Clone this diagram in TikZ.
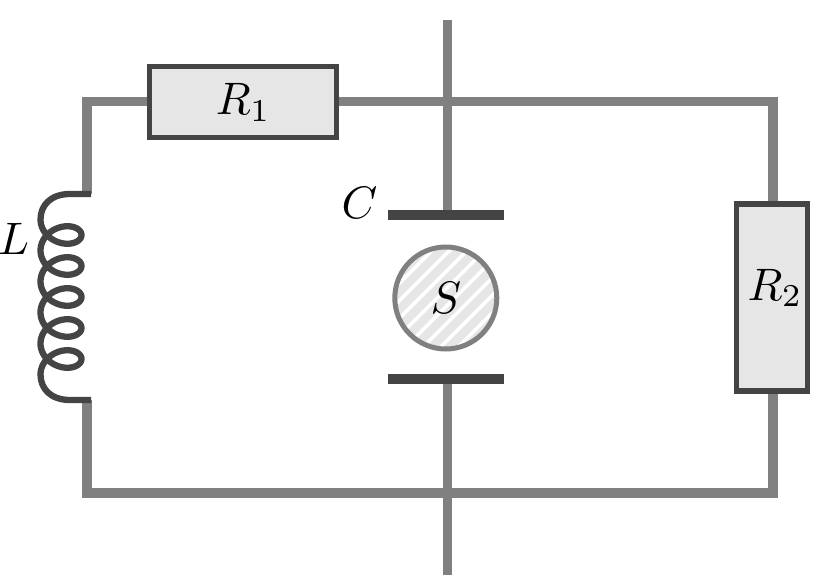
\documentclass[tikz,border=0pt]{standalone}
\usepackage{graphicx}
\definecolor{wire}{HTML}{808080}
\definecolor{dark}{HTML}{444444}
\definecolor{pale}{HTML}{E6E6E6}
\newcommand{\bigmath}[1]{\scalebox{4.55}{$#1$}}
\newcommand{\boxlab}[3]{\raisebox{#2pt}[0pt][0pt]{\makebox[0pt]{\hspace{#1pt}\bigmath{#3}}}}
\pgfdeclarelayer{back}
\pgfsetlayers{back,main}
\tikzset{
  wireline/.style={draw=wire,line width=9.5pt,line cap=butt,line join=miter},
  resbox/.style={draw=dark,fill=pale,line width=5.3pt,inner sep=0pt},
  plate/.style={fill=dark,draw=none,minimum width=116pt,minimum height=10pt,inner sep=0pt},
  lab/.style={inner sep=0pt},
}
\begin{document}
\begin{tikzpicture}[x=1pt,y=-1pt]
\useasboundingbox (0,0) rectangle (831,575);
\coordinate (tl) at (87,101.3);
\coordinate (tr) at (773,101.3);
\coordinate (bl) at (87,493);
\coordinate (br) at (773,493);
\coordinate (top) at (447.3,20);
\coordinate (bot) at (447.3,575);
\coordinate (lt) at (87,194);
\coordinate (lb) at (87,400);
\node[resbox,minimum width=187pt,minimum height=71pt] (R1) at (243.3,102) {\boxlab{0}{-13}{R_1}};
\node[resbox,minimum width=71pt,minimum height=187pt] (R2) at (772,297.5) {\boxlab{6}{-2.5}{R_2}};
\node[plate] (C1) at (446,215) {};
\node[plate] (C2) at (446,379) {};
\begin{pgfonlayer}{back}
\draw[wireline] (lt) -- (tl) -- (tr) -- (br) -- (bl) -- (lb);
\draw[wireline] (top) -- (C1.north -| top);
\draw[wireline] (C2.south -| bot) -- (bot);
\end{pgfonlayer}
% coil
\draw[draw=dark,line width=6.3pt,line join=round]
  (91,194) -- (70,194) .. controls (51,194) and (40.5,205) .. (40.5,219.5)
  -- plot[domain=0:31.416,samples=240,variable=\t] ({61-20.5*cos(\t r)},{219.5+31*\t/6.2832+15.75*sin(\t r)})
  .. controls (40.5,389) and (51,400) .. (70,400) -- (91,400);
% source
\begin{scope}
\clip (445.8,298) circle (51pt);
\fill[white] (445.8,298) circle (51pt);
\foreach \k in {-8,...,8}
  \draw[pale,line width=8.5pt] ({445.8+\k*17.5-70},368) -- ({445.8+\k*17.5+70},228);
\end{scope}
\node[circle,draw=wire,line width=5pt,minimum size=102pt,inner sep=0pt,lab] (S) at (445.8,298) {\bigmath{S}};
\node[lab] (LC) at (359.5,202.5) {\bigmath{C}};
\node[lab] (LL) at (13.5,239) {\bigmath{L}};
\end{tikzpicture}
\end{document}
